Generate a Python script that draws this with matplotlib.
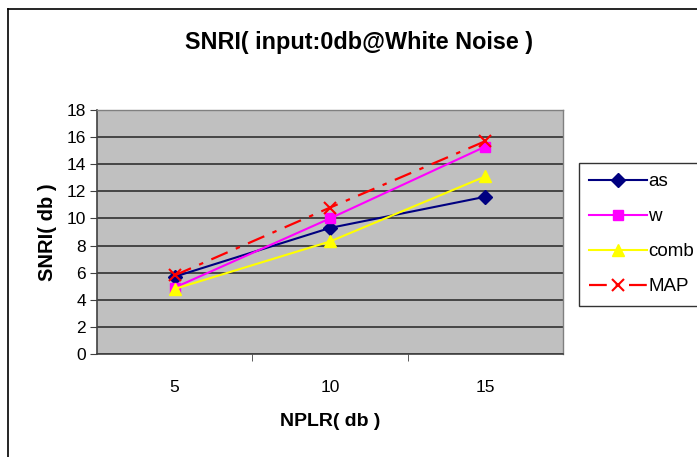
import matplotlib
matplotlib.use("Agg")
import matplotlib.pyplot as plt
from matplotlib.lines import Line2D

categories = ["5", "10", "15"]
as_vals = [5.7, 9.3, 11.6]
w_vals = [4.9, 10.0, 15.3]
comb_vals = [4.8, 8.3, 13.1]
map_vals = [5.8, 10.8, 15.7]
yticks = [0, 2, 4, 6, 8, 10, 12, 14, 16, 18]

plt.rcParams['font.family'] = ['Liberation Sans', 'DejaVu Sans']

W, H = 697, 457
fig = plt.figure(figsize=(W / 100, H / 100), dpi=100)
fig.patch.set_facecolor('white')

L, R, T, B = 97, 563, 110, 354
ax = fig.add_axes([L / W, 1 - B / H, (R - L) / W, (B - T) / H])
ax.set_facecolor('#C0C0C0')

x = list(range(len(categories)))
ax.plot(x, as_vals, color='#000080', lw=1.5, marker='D', ms=7, label='as', zorder=3)
ax.plot(x, w_vals, color='#FF00FF', lw=1.5, marker='s', ms=6.5, label='w', zorder=3)
ax.plot(x, comb_vals, color='#FFFF00', lw=1.5, marker='^', ms=8.5, label='comb', zorder=3)
ax.plot(x, map_vals, color='#FF0000', lw=1.6, marker='x', ms=8, mew=1.5,
        linestyle=(0, (8, 4, 2, 4)), label='MAP', zorder=3)

ax.set_xlim(-0.5, len(categories) - 0.5)
ax.set_ylim(0, 18)
ax.set_yticks(yticks)
ax.set_yticklabels([str(v) for v in yticks], fontsize=12.5)
ax.set_xticks(x)
ax.set_xticklabels(categories, fontsize=12.5)
ax.tick_params(axis='x', length=0, pad=19)
ax.set_xticks([0.5, 1.5], minor=True)
ax.tick_params(axis='x', which='minor', length=5, color='#404040', direction='out')
ax.tick_params(axis='y', length=5, color='#404040', direction='out', pad=3)
for yv in yticks:
    ax.axhline(yv, color='#303030', lw=1.2, zorder=1)
for s in ['left', 'bottom']:
    ax.spines[s].set_color('#404040')
    ax.spines[s].set_linewidth(1.2)
for s in ['top', 'right']:
    ax.spines[s].set_color('#808080')
    ax.spines[s].set_linewidth(1.0)

ax.set_xlabel('NPLR( db )', fontsize=14, fontweight='bold', labelpad=13)
ax.set_ylabel('SNRI( db )', fontsize=14.5, fontweight='bold', labelpad=7)

fig.text(359 / W, 1 - 42 / H, 'SNRI( input:0db@White Noise )', fontsize=16.8,
         fontweight='bold', ha='center', va='center')

# outer frame lines (left and top)
fig.add_artist(Line2D([8 / W, 8 / W], [0, 1 - 9 / H], color='black', lw=1.2,
                      transform=fig.transFigure))
fig.add_artist(Line2D([8 / W, 1], [1 - 9 / H, 1 - 9 / H], color='black', lw=1.2,
                      transform=fig.transFigure))

leg = ax.legend(loc='upper left', bbox_to_anchor=(579 / W, 1 - 163 / H),
                bbox_transform=fig.transFigure, fontsize=13.5, frameon=True,
                fancybox=False, edgecolor='black', facecolor='white',
                handlelength=3.1, labelspacing=0.95, borderpad=0.55,
                handletextpad=0.05, borderaxespad=0)
leg.get_frame().set_linewidth(1.0)

fig.savefig('out.png', dpi=100)
